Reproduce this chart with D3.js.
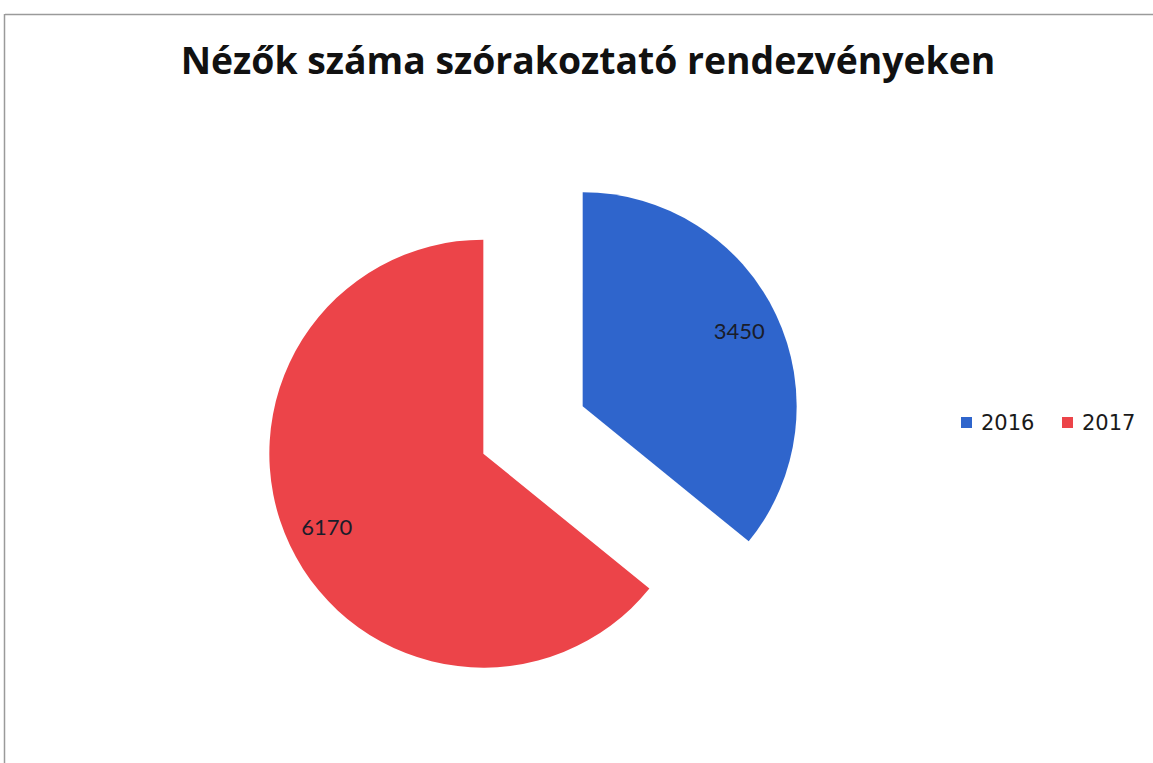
<!DOCTYPE html>
<html><head><meta charset="utf-8">
<script src="https://cdn.jsdelivr.net/npm/d3@7"></script>
<style>body{margin:0;background:#fff}svg{display:block}</style>
</head><body>
<svg id="c" width="1153" height="763"></svg>
<script>
const categories = ["2016", "2017"];
const values = [3450, 6170];
const colors = ["#2f65cc", "#ec4449"];
const title = "Nézők száma szórakoztató rendezvényeken";

const svg = d3.select("#c");
// frame lines (scan border)
svg.append("line").attr("x1",5).attr("x2",1153).attr("y1",14.5).attr("y2",14.5).attr("stroke","#9a9a9a").attr("stroke-width",1.5);
svg.append("line").attr("x1",4.5).attr("x2",4.5).attr("y1",14).attr("y2",763).attr("stroke","#9a9a9a").attr("stroke-width",1.5);

const t = svg.append("text").attr("x",588).attr("y",74).attr("text-anchor","middle")
  .attr("font-family","'Open Sans', Lato, sans-serif").attr("font-weight","bold")
  .attr("font-size",36).attr("fill","#111").text(title);
const tw = t.node().getComputedTextLength();
t.attr("font-size", 36*815/tw);

const cx = 533, cy = 430, r = 214, explode = 55;
const pie = d3.pie().sort(null).value(d=>d)(values);
const arc = d3.arc().innerRadius(0).outerRadius(r);
const g = svg.append("g").attr("transform",`translate(${cx},${cy})`);
pie.forEach((p,i)=>{
  const mid = (p.startAngle+p.endAngle)/2;
  const dx = Math.sin(mid)*explode, dy = -Math.cos(mid)*explode;
  const s = g.append("g").attr("transform",`translate(${dx},${dy})`);
  s.append("path").attr("d",arc(p)).attr("fill",colors[i]);
  const lr = r*0.81;
  s.append("text").attr("x",Math.sin(mid)*lr).attr("y",-Math.cos(mid)*lr).attr("dy","0.33em")
    .attr("text-anchor","middle").attr("font-family","Lato, sans-serif").attr("font-size",22)
    .attr("fill","#1a1d2a").text(values[i]);
});

// legend
const lg = svg.append("g");
const lx = [961, 1062];
categories.forEach((c,i)=>{
  lg.append("rect").attr("x",lx[i]).attr("y",417).attr("width",11).attr("height",11).attr("fill",colors[i]);
  lg.append("text").attr("x",lx[i]+20).attr("y",430).attr("font-family","'DejaVu Sans', sans-serif")
    .attr("font-size",21).attr("fill","#1a1a1a").text(c);
});
</script>
</body></html>
